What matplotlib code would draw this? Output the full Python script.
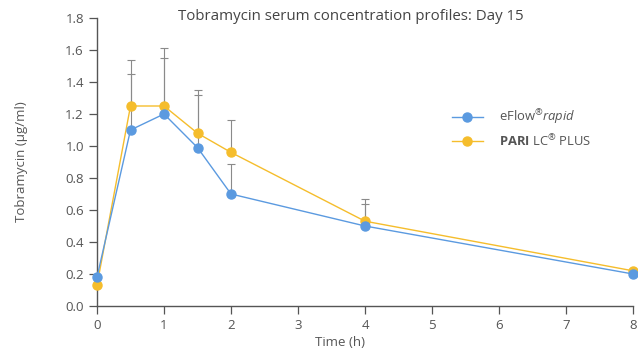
import numpy as np
import matplotlib
matplotlib.use('Agg')
import matplotlib.pyplot as plt

plt.rcParams['font.family'] = ['Open Sans', 'DejaVu Sans']
plt.rcParams['mathtext.fontset'] = 'custom'
plt.rcParams['mathtext.rm'] = 'Open Sans'
plt.rcParams['mathtext.it'] = 'Open Sans:italic'
plt.rcParams['mathtext.bf'] = 'Open Sans:bold'

# 数据
time_h = [0, 0.5, 1, 1.5, 2, 4, 8]
eflow = [0.18, 1.10, 1.20, 0.99, 0.70, 0.50, 0.20]
eflow_upper = [0.18, 1.45, 1.55, 1.32, 0.89, 0.64, 0.20]
pari = [0.13, 1.25, 1.25, 1.08, 0.96, 0.53, 0.22]
pari_upper = [0.13, 1.54, 1.61, 1.35, 1.16, 0.67, 0.22]

blue = '#5b9ae0'
yellow = '#f5bd2c'
grey = '#555555'

fig = plt.figure(figsize=(6.38, 3.51), dpi=100)
ax = fig.add_axes([97 / 638, 45 / 351, 536 / 638, 288 / 351])

# 误差线 (仅上方)
for vals, upper in [(pari, pari_upper), (eflow, eflow_upper)]:
    err = np.array(upper) - np.array(vals)
    ax.errorbar(time_h, vals, yerr=[np.zeros(len(vals)), err], fmt='none',
                ecolor='#8a8a8a', elinewidth=0.8, capsize=3, capthick=0.8, zorder=2)

ax.plot(time_h, pari, color=yellow, lw=1.0, marker='o', ms=6.5,
        label='$\\bf{PARI}$ LC$^{®}$ PLUS', zorder=3, clip_on=False)
ax.plot(time_h, eflow, color=blue, lw=1.0, marker='o', ms=6.5,
        label='eFlow$^{®}$$\\it{rapid}$', zorder=4, clip_on=False)

ax.set_xlim(0, 8)
ax.set_ylim(0, 1.8)
ax.set_xticks(range(0, 9))
ax.set_yticks(np.arange(0, 1.81, 0.2))
ax.set_yticklabels([f'{v:.1f}' for v in np.arange(0, 1.81, 0.2)])

for s in ['top', 'right']:
    ax.spines[s].set_visible(False)
for s in ['left', 'bottom']:
    ax.spines[s].set_color('#555555')
    ax.spines[s].set_linewidth(1.0)
ax.tick_params(colors='#555555', labelcolor=grey, labelsize=9.5, length=6, width=0.9)

fig.text(351 / 638, 1 - 16 / 351, 'Tobramycin serum concentration profiles: Day 15',
         ha='center', va='center', fontsize=10.8, color='#444444')
fig.text(340 / 638, 1 - 343 / 351, 'Time (h)', ha='center', va='center',
         fontsize=9.5, color=grey)
fig.text(22 / 638, 1 - 162 / 351, 'Tobramycin (µg/ml)', ha='center', va='center',
         rotation=90, fontsize=9.5, color=grey)

handles, labels = ax.get_legend_handles_labels()
leg = ax.legend(handles[::-1], labels[::-1], loc='center left',
                bbox_to_anchor=(440 / 638, 1 - 128 / 351), bbox_transform=fig.transFigure,
                frameon=False, fontsize=9.4, handlelength=2.4, handletextpad=1.2,
                labelspacing=0.5)
for t in leg.get_texts():
    t.set_color(grey)

fig.savefig('out.png', dpi=100)
